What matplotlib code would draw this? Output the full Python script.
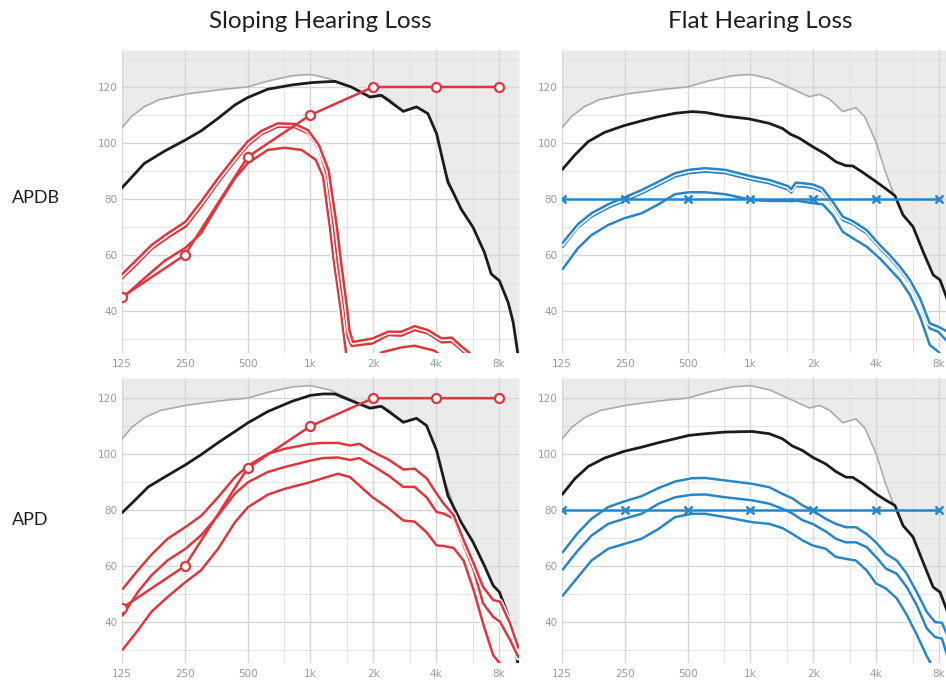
import numpy as np
import matplotlib
matplotlib.use("Agg")
import matplotlib.pyplot as plt
import matplotlib.patheffects as pe
from matplotlib.ticker import NullLocator

# ---------------- data ----------------
TICK_FREQS = [125, 250, 500, 1000, 2000, 4000, 8000]
TICK_LABELS = ["125", "250", "500", "1k", "2k", "4k", "8k"]
Y_TICKS = [40, 60, 80, 100, 120]

# grey limit curve (shared by all panels)
GREY_F = [125, 139, 160, 189, 250, 354, 500, 616, 812, 1000, 1231, 1516, 1918, 2144,
          2395, 2771, 3204, 3531, 4000, 4406, 4823, 5098, 5464]
GREY_DB = [105.5, 109.5, 113, 115.5, 117.4, 118.9, 120, 122, 124, 124.5, 123, 120, 116.5,
           117.4, 115.7, 111.2, 112.6, 109.4, 100.4, 90.3, 82.5, 70, 20]

# Sloping / APDB
BLK_SA_F = [125, 160, 200, 252, 299, 361, 435, 500, 624, 812, 1000, 1087, 1311, 1569, 1932,
            2189, 2790, 3226, 3656, 4028, 4257, 4562, 4823, 5278, 6020, 6821, 7362, 8056,
            8876, 9382, 9849]
BLK_SA_DB = [84.0, 92.7, 97.1, 101.1, 104.3, 108.8, 113.6, 116.2, 119.2, 120.7, 121.5, 121.7,
             122, 120, 116.4, 117, 111.3, 112.9, 110.5, 103.3, 95.5, 86.0, 82.5, 76.4, 69.9,
             61, 53.2, 50.8, 43, 35.9, 25.2]
RED_SA1_F = [125, 144, 173, 207, 232, 252, 299, 361, 435, 500, 583, 697, 841, 973, 1100, 1225,
             1340, 1400, 1500, 1540, 1600, 1700, 1986, 2362, 2732, 3160, 3656, 4257, 4755,
             5315, 5815, 6063]
RED_SA1_DB = [53.1, 57.6, 63.5, 67.7, 70.1, 71.9, 79, 87.4, 95.1, 100.5, 104.3, 107, 106.8,
              104.6, 99.2, 90, 70, 58, 41, 33, 29, 29.3, 30.2, 32.6, 32.6, 34.6, 33.2, 30.2,
              30.5, 27.3, 24.9, 22]
RED_SA2_F = [125, 144, 173, 207, 232, 252, 299, 361, 435, 500, 583, 697, 841, 973, 1100, 1205,
             1295, 1350, 1455, 1515, 1575, 1700, 1986, 2362, 2732, 3160, 3656, 4257, 4755,
             5315, 5657, 6063]
RED_SA2_DB = [51.7, 56, 62.1, 66.2, 68.5, 70.1, 77.2, 85.8, 93.6, 99, 103.1, 105.8, 105.6,
              103.5, 98, 88, 70, 58, 41, 30.5, 27.5, 27.8, 28.4, 31.4, 31.2, 33.2, 32, 28.8,
              29, 26, 24, 21]
RED_SA3_F = [125, 160, 200, 252, 299, 361, 435, 500, 624, 753, 908, 1060, 1150, 1240, 1295,
             1395, 1465, 1515, 1866, 2071, 2189, 2732, 3160, 3944, 4406, 4925]
RED_SA3_DB = [44.5, 51.7, 57.9, 62.6, 67.7, 77.9, 87.4, 92.7, 97.5, 98.3, 97.5, 94, 88, 70,
              58, 41, 28, 20, 19, 23, 25.2, 27, 27.6, 25.8, 23, 20]
TARGET_SLOPE = [45, 60, 95, 110, 120, 120, 120]

# Sloping / APD
BLK_SB_F = [126, 144, 167, 200, 252, 299, 361, 435, 502, 624, 812, 1000, 1149, 1311, 1569,
            1932, 2189, 2790, 3226, 3605, 4028, 4562, 5278, 6020, 6821, 7517, 8056, 8876,
            9382, 9849]
BLK_SB_DB = [79.3, 83.5, 88.3, 91.8, 96.2, 99.8, 104.1, 108.1, 111.2, 115.2, 118.8, 121,
             121.5, 121.5, 119.1, 116.4, 117.1, 111.4, 112.8, 110.2, 101.3, 85.2, 75.7, 68.6,
             60.2, 53.1, 50.7, 42.4, 35.2, 25.7]
RED_SB_F = [126, 149, 173, 207, 252, 299, 361, 435, 503, 624, 753, 1000, 1149, 1357, 1548,
            1717, 1986, 2362, 2790, 3160, 3605, 4028, 4347, 4856, 5426, 6063, 6727, 7517,
            8111, 9063, 9917]
RED_SB1_DB = [51.9, 58.5, 64.1, 69.8, 74, 77.9, 84.6, 91.8, 95.9, 100.1, 101.9, 103.7, 104,
              104, 103.1, 103.7, 100.9, 98.1, 94.5, 94.8, 91.4, 85.9, 82.4, 78.2, 69.3, 61,
              52.6, 47.9, 47.3, 39.5, 31]
RED_SB2_DB = [42.4, 50.8, 56.7, 62.1, 66.2, 71, 78.1, 85.9, 90, 93.6, 95.4, 97.7, 98.6, 98.8,
              97.9, 98.6, 95.9, 92.4, 88.3, 88.3, 84.6, 79.3, 78.8, 77, 67.5, 58.6, 46.7,
              41.9, 40.1, 33.6, 27.6]
RED_SB3_DB = [30.2, 37.1, 43.7, 49, 54.3, 58.5, 66.2, 75.7, 81.1, 85.5, 87.6, 90, 91.4, 93,
              91.8, 88.8, 84.6, 80.7, 76.3, 75.9, 72.1, 67.4, 67.2, 66.5, 62, 51.4, 39.5,
              28.2, 25.2, 18, 15]

# Flat / APDB
BLK_FA_F = [126, 144, 167, 200, 248, 301, 363, 435, 525, 607, 758, 986, 1231, 1424, 1558,
            1717, 1986, 2297, 2567, 2868, 3095, 3458, 4000, 4468, 4925, 5389, 6020, 6727,
            7517, 8111, 8814, 9849]
BLK_FA_DB = [90.7, 95.7, 100.5, 103.8, 106.2, 107.9, 109.4, 110.6, 111.2, 110.9, 109.6,
             108.6, 107, 105.2, 103.1, 101.7, 98.7, 96, 93.3, 91.9, 91.8, 89.5, 86.2, 83.6,
             81.2, 74.3, 70.1, 61.2, 52.9, 51.1, 43.9, 35]
BLUE_FA_F = [126, 149, 173, 208, 248, 301, 363, 435, 507, 607, 758, 1021, 1231, 1516, 1569,
             1647, 1803, 1986, 2219, 2480, 2771, 3095, 3605, 4170, 4657, 5205, 5815, 6498,
             7240, 7945, 8815, 9513]
BLUE_FA1_DB = [64.4, 71, 74.9, 78.1, 80.5, 83.2, 86.2, 89.2, 90.4, 91, 90.4, 88, 86.8, 84.6,
               83.5, 85.8, 85.6, 85.2, 83.8, 79, 73.7, 72.1, 68.9, 63.6, 60, 55.9, 51.1,
               44.6, 35.6, 34.4, 32.6, 28]
BLUE_FA2_DB = [63, 69.8, 73.7, 76.9, 79.3, 82, 85, 88, 89.2, 89.8, 89.2, 86.8, 85.6, 83.4,
               82.3, 84.6, 84.4, 84, 82.6, 77.9, 72.5, 71, 67.7, 62.4, 58.8, 54.7, 49.9,
               43.2, 33.8, 32.6, 29, 24]
BLUE_FA3_DB = [55, 62.4, 67.1, 70.7, 73.1, 74.9, 78.1, 81.7, 82.4, 82.4, 81.7, 79.6, 79.3,
               79.3, 79.2, 79.4, 79, 78.5, 78.1, 74.3, 68.3, 66, 63, 58.8, 55, 51.1, 45.8,
               38, 27.9, 25.5, 22, 18]
TARGET_FLAT = [80, 80, 80, 80, 80, 80, 80]

# Flat / APD
BLK_FB_F = [126, 144, 167, 200, 248, 301, 363, 435, 507, 607, 758, 1021, 1231, 1424, 1591,
            1778, 1986, 2297, 2567, 2868, 3095, 3458, 4000, 4468, 4925, 5389, 6020, 6727,
            7517, 8111, 8814, 9849]
BLK_FB_DB = [85.8, 91.2, 95.6, 98.6, 101, 102.5, 104.1, 105.5, 106.7, 107.3, 107.9, 108.1,
             107.3, 105.5, 102.9, 101.3, 98.9, 96.5, 93.8, 91.8, 91.7, 89.4, 85.8, 83.5,
             81.7, 74.5, 70.4, 61.4, 52.5, 50.7, 43.6, 35]
BLUE_FB_F = [126, 149, 173, 208, 248, 301, 363, 435, 525, 607, 758, 1021, 1231, 1424, 1591,
             1778, 1986, 2297, 2567, 2868, 3204, 3605, 4000, 4468, 5029, 5617, 6277, 7013,
             7675, 8282, 8815, 9513]
BLUE_FB1_DB = [65, 71.9, 76.9, 81.1, 83.1, 85, 87.9, 90.2, 91.4, 91.5, 90.6, 89.4, 88.2,
               85.8, 84.2, 81.7, 79.9, 76.9, 75.1, 73.9, 73.9, 71.5, 68.5, 64.4, 62, 57.3,
               50.7, 43.6, 40, 39.8, 35.2, 30]
BLUE_FB2_DB = [58.8, 65.6, 70.9, 75.1, 76.9, 78.7, 82.3, 84.6, 85.5, 85.6, 84.6, 83.5, 82.3,
               80.5, 78.8, 76.4, 75.1, 72.4, 69.8, 68.5, 68.5, 66.8, 63.3, 59.1, 57.3, 52.5,
               46, 37.7, 34.7, 34.1, 27.5, 22]
BLUE_FB3_DB = [49.5, 56.1, 62, 66.2, 67.9, 69.8, 73.3, 77.5, 78.7, 78.7, 77.5, 75.7, 75.1,
               73.6, 71.5, 69.2, 67.4, 66.2, 63.3, 62.6, 62, 58.5, 53.8, 52, 48.5, 42.6,
               35.5, 27.8, 22.5, 18, 15, 12]

# ---------------- style ----------------
RED = "#e0353c"
BLUE = "#2886c8"
BLACK = "#1c1c1c"
GREYLINE = "#ababab"
SHADE = "#ebebeb"
GRID_MAJ = "#d6d6d6"
GRID_MIN = "#e4e4e4"
LABEL_C = "#9a9a9a"
TITLE_FONT = ["Lato", "DejaVu Sans"]

W, H = 946, 681
fig = plt.figure(figsize=(W / 100, H / 100), dpi=100)
fig.patch.set_facecolor("white")


def add_ax(x0, y0, x1, y1):
    return fig.add_axes([x0 / W, 1 - y1 / H, (x1 - x0) / W, (y1 - y0) / H])


halo = [pe.Stroke(linewidth=4.0, foreground="white"), pe.Normal()]


def panel(ax, ylim, blk_f, blk_db, curves, color, target, marker):
    x0, x1 = 125, 10000
    ax.set_xscale("log")
    ax.set_xlim(x0, x1)
    ax.set_ylim(*ylim)
    for s in ax.spines.values():
        s.set_visible(False)
    fine = np.geomspace(x0, x1, 1200)
    lf = np.log2(fine)
    g = np.interp(lf, np.log2(GREY_F), GREY_DB)
    b = np.interp(lf, np.log2(blk_f), blk_db)
    ax.fill_between(fine, np.maximum(g, b), ylim[1], color=SHADE, lw=0, zorder=1)
    # grid
    for y in range(30, int(ylim[1]) + 1, 10):
        ax.axhline(y, color=GRID_MAJ if y % 20 == 0 else GRID_MIN,
                   lw=1.0 if y % 20 == 0 else 0.8, zorder=1.5)
    for f in TICK_FREQS:
        ax.axvline(f, color=GRID_MAJ, lw=1.0, zorder=1.5)
    for f in [750, 1500, 3000, 6000]:
        ax.axvline(f, color=GRID_MIN, lw=0.8, zorder=1.5)
    # grey limit line (visible only where above black)
    gl = np.where(g >= b - 0.3, g, np.nan)
    ax.plot(fine, gl, color=GREYLINE, lw=1.2, zorder=3)
    ax.plot(blk_f, blk_db, color=BLACK, lw=2.0, zorder=4,
            solid_joinstyle="round")
    for cf, cd in curves:
        ax.plot(cf, cd, color=color, lw=1.8, zorder=5, path_effects=halo,
                solid_joinstyle="round")
    if marker == "o":
        ax.plot(TICK_FREQS, target, color=color, lw=1.8, zorder=6, marker="o",
                ms=6.5, mfc="white", mec=color, mew=1.6)
    else:
        ax.plot(TICK_FREQS, target, color=color, lw=1.8, zorder=6, marker="x",
                ms=6, mec=color, mew=1.8)
    ax.set_xticks(TICK_FREQS)
    ax.set_xticklabels(TICK_LABELS)
    ax.xaxis.set_minor_locator(NullLocator())
    ax.set_yticks(Y_TICKS)
    ax.set_yticklabels([str(v) for v in Y_TICKS])
    ax.tick_params(length=0, labelsize=7.5, colors=LABEL_C, pad=4)
    ax.tick_params(axis="y", pad=3)


ax_tl = add_ax(122, 50, 519, 353)
ax_tr = add_ax(562, 50, 959, 353)
ax_bl = add_ax(122, 378, 519, 663)
ax_br = add_ax(562, 378, 959, 663)

top_ylim = (25.0, 133.2)
bot_ylim = (25.4, 127.2)

panel(ax_tl, top_ylim, BLK_SA_F, BLK_SA_DB,
      [(RED_SA3_F, RED_SA3_DB), (RED_SA2_F, RED_SA2_DB), (RED_SA1_F, RED_SA1_DB)],
      RED, TARGET_SLOPE, "o")
panel(ax_bl, bot_ylim, BLK_SB_F, BLK_SB_DB,
      [(RED_SB_F, RED_SB3_DB), (RED_SB_F, RED_SB2_DB), (RED_SB_F, RED_SB1_DB)],
      RED, TARGET_SLOPE, "o")
panel(ax_tr, top_ylim, BLK_FA_F, BLK_FA_DB,
      [(BLUE_FA_F, BLUE_FA3_DB), (BLUE_FA_F, BLUE_FA2_DB), (BLUE_FA_F, BLUE_FA1_DB)],
      BLUE, TARGET_FLAT, "x")
panel(ax_br, bot_ylim, BLK_FB_F, BLK_FB_DB,
      [(BLUE_FB_F, BLUE_FB3_DB), (BLUE_FB_F, BLUE_FB2_DB), (BLUE_FB_F, BLUE_FB1_DB)],
      BLUE, TARGET_FLAT, "x")

fig.text(320 / W, 1 - 21 / H, "Sloping Hearing Loss", ha="center", va="center",
         fontsize=17.5, color="#1e1e1e", family=TITLE_FONT, fontweight="normal")
fig.text(760 / W, 1 - 21 / H, "Flat Hearing Loss", ha="center", va="center",
         fontsize=17.5, color="#1e1e1e", family=TITLE_FONT, fontweight="normal")
fig.text(12 / W, 1 - 198 / H, "APDB", ha="left", va="center",
         fontsize=13, color="#1e1e1e", family=TITLE_FONT, fontweight="normal")
fig.text(12 / W, 1 - 520 / H, "APD", ha="left", va="center",
         fontsize=13, color="#1e1e1e", family=TITLE_FONT, fontweight="normal")

fig.savefig("out.png", dpi=100, facecolor="white")
